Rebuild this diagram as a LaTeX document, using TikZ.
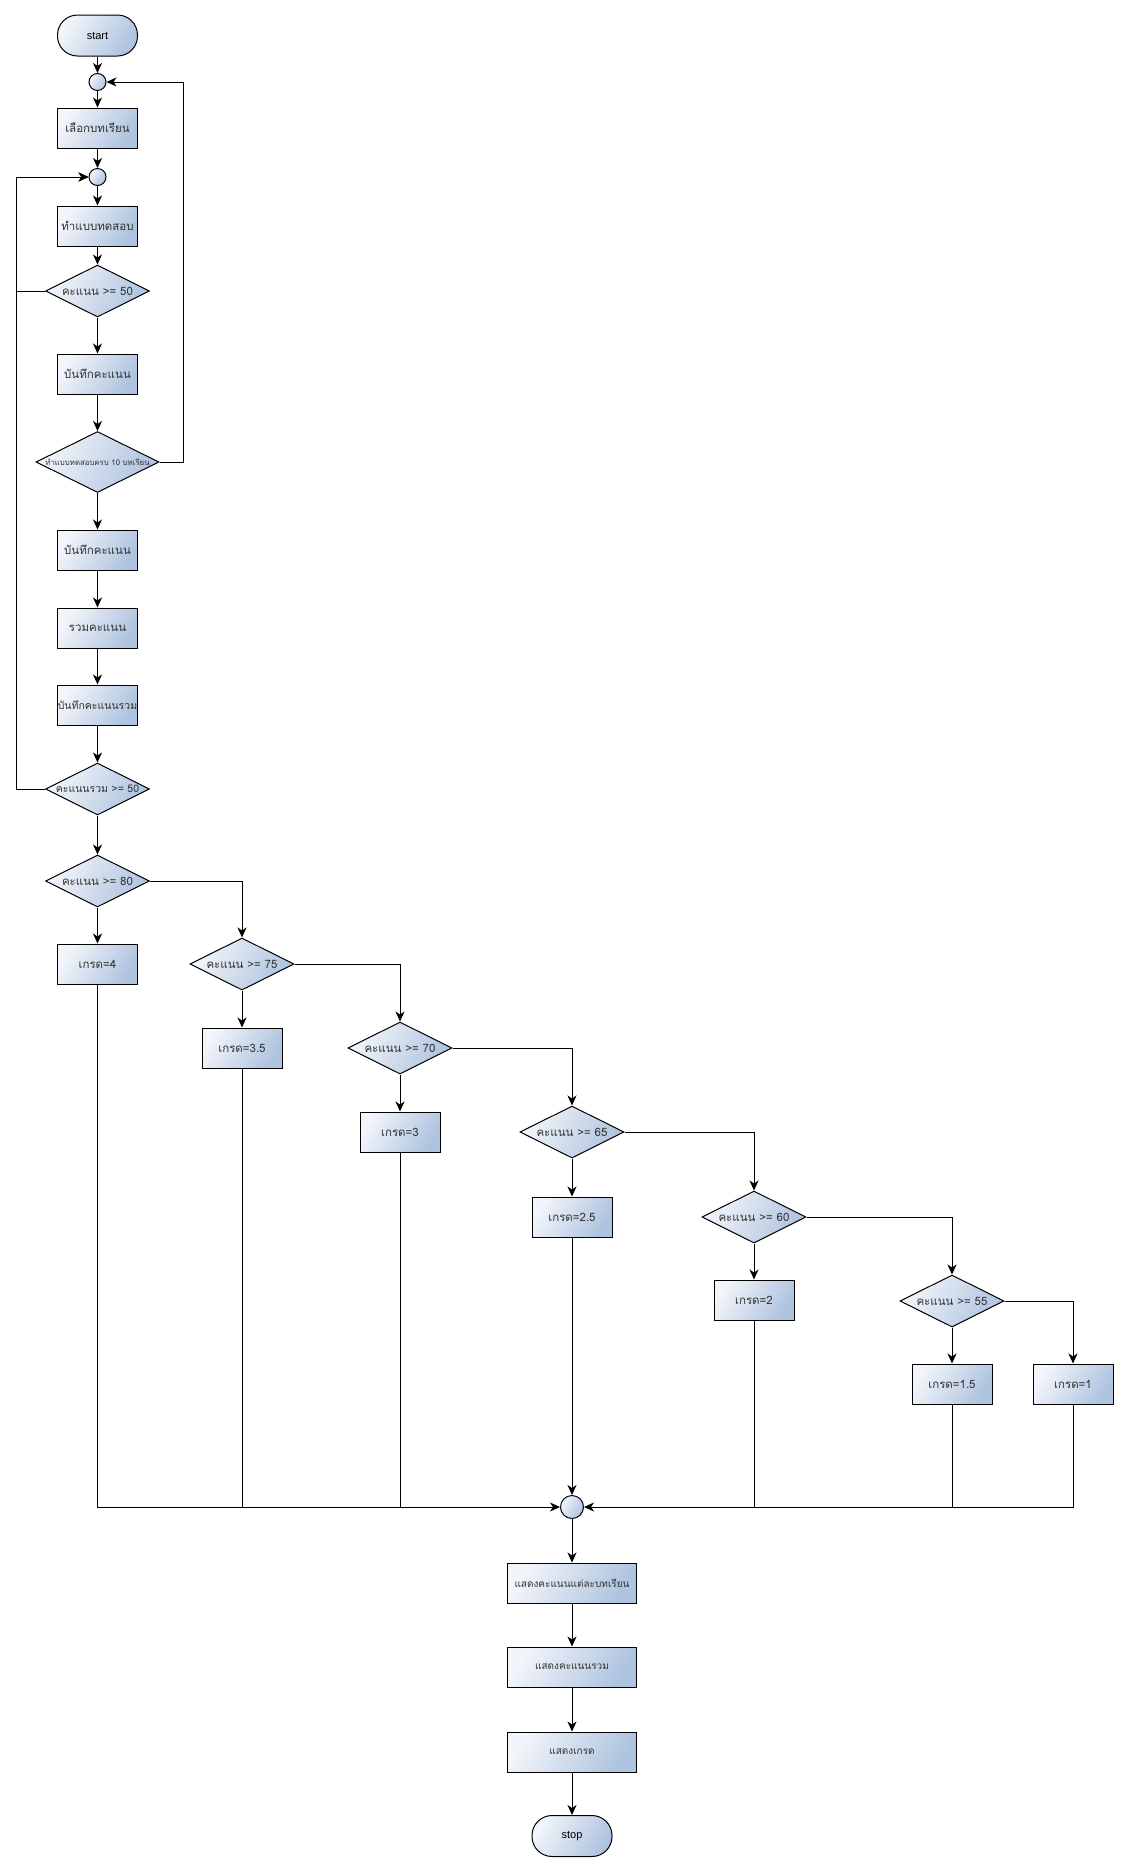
\documentclass[tikz,border=0pt]{standalone}
\usepackage{fontspec}
\setmainfont[Script=Thai]{Loma}
\newfontfamily\latinfont{Liberation Sans}
\usetikzlibrary{arrows.meta,shapes.geometric}
\definecolor{fl}{HTML}{F2F5FA}
\definecolor{fd}{HTML}{AEC3DF}
\definecolor{tx}{HTML}{333333}
\tikzset{
  shd/.style={draw=black, line width=1pt, top color=fl, bottom color=fd, shading angle=60},
  box/.style={shd, rectangle, minimum width=80pt, minimum height=40pt, inner sep=0pt, font=\fontsize{11.5}{13}\selectfont, text=tx},
  wbox/.style={box, minimum width=129pt, font=\fontsize{10}{12}\selectfont},
  term/.style={shd, rectangle, rounded corners=20pt, minimum width=80pt, minimum height=41pt, inner sep=0pt, font=\latinfont\fontsize{11}{13}\selectfont, text=black},
  dia/.style={shd, diamond, minimum width=104pt, minimum height=52pt, inner sep=0pt},
  dtxt/.style={inner sep=0pt, font=\fontsize{11.5}{13}\selectfont, text=tx},
  junc/.style={shd, circle, minimum size=17pt, inner sep=0pt},
  arr/.style={line width=1pt, -{Stealth[length=10pt, width=9pt, inset=3pt]}},
  ln/.style={line width=1pt}
}
\begin{document}
\begin{tikzpicture}[x=1pt, y=-1pt]
\useasboundingbox (0,0) rectangle (1129,1872);
% main column
\node[term] (start) at (97.5,35.5) {start};
\node[junc] (c1) at (97.5,82) {};
\node[box] (b1) at (97.5,128) {เลือกบทเรียน};
\node[junc] (c2) at (97.5,177) {};
\node[box] (b2) at (97.5,226) {ทำแบบทดสอบ};
\node[dia] (d1) at (97.5,291) {};
\node[dtxt] (t1) at (d1) {คะแนน >= 50};
\node[box] (b3) at (97.5,374) {บันทึกคะแนน};
\node[dia, minimum width=123pt, minimum height=61pt] (d2) at (97.5,462) {};
\node[dtxt, font=\fontsize{7.8}{9}\selectfont] (t2) at (d2) {ทำแบบทดสอบครบ 10 บทเรียน};
\node[box] (b4) at (97.5,550) {บันทึกคะแนน};
\node[box] (b5) at (97.5,628) {รวมคะแนน};
\node[box, font=\fontsize{10.5}{12}\selectfont] (b6) at (97.5,705) {บันทึกคะแนนรวม};
\node[dia] (d3) at (97.5,789) {};
\node[dtxt, font=\fontsize{10.5}{12}\selectfont] (t3) at (d3) {คะแนนรวม >= 50};
\node[dia] (d4) at (97.5,881) {};
\node[dtxt] (t4) at (d4) {คะแนน >= 80};
\node[box] (g4) at (97.5,964) {เกรด=4};
% staircase
\node[dia] (d5) at (242,964) {};
\node[dtxt] (t5) at (d5) {คะแนน >= 75};
\node[box] (g35) at (242,1048) {เกรด=3.5};
\node[dia] (d6) at (400,1048) {};
\node[dtxt] (t6) at (d6) {คะแนน >= 70};
\node[box] (g3) at (400,1132) {เกรด=3};
\node[dia] (d7) at (572,1132) {};
\node[dtxt] (t7) at (d7) {คะแนน >= 65};
\node[box] (g25) at (572,1217) {เกรด=2.5};
\node[dia] (d8) at (754,1217) {};
\node[dtxt] (t8) at (d8) {คะแนน >= 60};
\node[box] (g2) at (754,1300) {เกรด=2};
\node[dia] (d9) at (952,1301) {};
\node[dtxt] (t9) at (d9) {คะแนน >= 55};
\node[box] (g15) at (952,1384) {เกรด=1.5};
\node[box] (g1) at (1073,1384) {เกรด=1};
% merge and output
\node[junc, minimum size=23pt] (m) at (572,1507) {};
\node[wbox] (o1) at (572,1583) {แสดงคะแนนแต่ละบทเรียน};
\node[wbox] (o2) at (572,1667) {แสดงคะแนนรวม};
\node[wbox] (o3) at (572,1752) {แสดงเกรด};
\node[term] (stop) at (572,1836) {stop};
\coordinate (lx) at (16,0);
\coordinate (rx) at (183,0);
% straight connectors
\draw[arr] (start) -- (c1);
\draw[arr] (c1) -- (b1);
\draw[arr] (b1) -- (c2);
\draw[arr] (c2) -- (b2);
\draw[arr] (b2) -- (d1.north);
\draw[arr] (d1.south) -- (b3);
\draw[arr] (b3) -- (d2.north);
\draw[arr] (d2.south) -- (b4);
\draw[arr] (b4) -- (b5);
\draw[arr] (b5) -- (b6);
\draw[arr] (b6) -- (d3.north);
\draw[arr] (d3.south) -- (d4.north);
\draw[arr] (d4.south) -- (g4);
% loops
\draw[arr] (d1.west) -- (d1.west -| lx) |- (c2.west);
\draw[arr] (d3.west) -- (d3.west -| lx) |- (c2.west);
\draw[arr] (d2.east) -- (d2.east -| rx) |- (c1.east);
% staircase connectors
\draw[arr] (d4.east) -| (d5.north);
\draw[arr] (d5.east) -| (d6.north);
\draw[arr] (d6.east) -| (d7.north);
\draw[arr] (d7.east) -| (d8.north);
\draw[arr] (d8.east) -| (d9.north);
\draw[arr] (d9.east) -| (g1.north);
\draw[arr] (d5.south) -- (g35);
\draw[arr] (d6.south) -- (g3);
\draw[arr] (d7.south) -- (g25);
\draw[arr] (d8.south) -- (g2);
\draw[arr] (d9.south) -- (g15);
% to merge
\draw[arr] (g4.south) |- (m.west);
\draw[ln] (g35.south) -- (g35.south |- m.west);
\draw[ln] (g3.south) -- (g3.south |- m.west);
\draw[arr] (g25.south) -- (m.north);
\draw[arr] (g1.south) |- (m.east);
\draw[ln] (g2.south) -- (g2.south |- m.east);
\draw[ln] (g15.south) -- (g15.south |- m.east);
% output
\draw[arr] (m) -- (o1);
\draw[arr] (o1) -- (o2);
\draw[arr] (o2) -- (o3);
\draw[arr] (o3) -- (stop);
\end{tikzpicture}
\end{document}
